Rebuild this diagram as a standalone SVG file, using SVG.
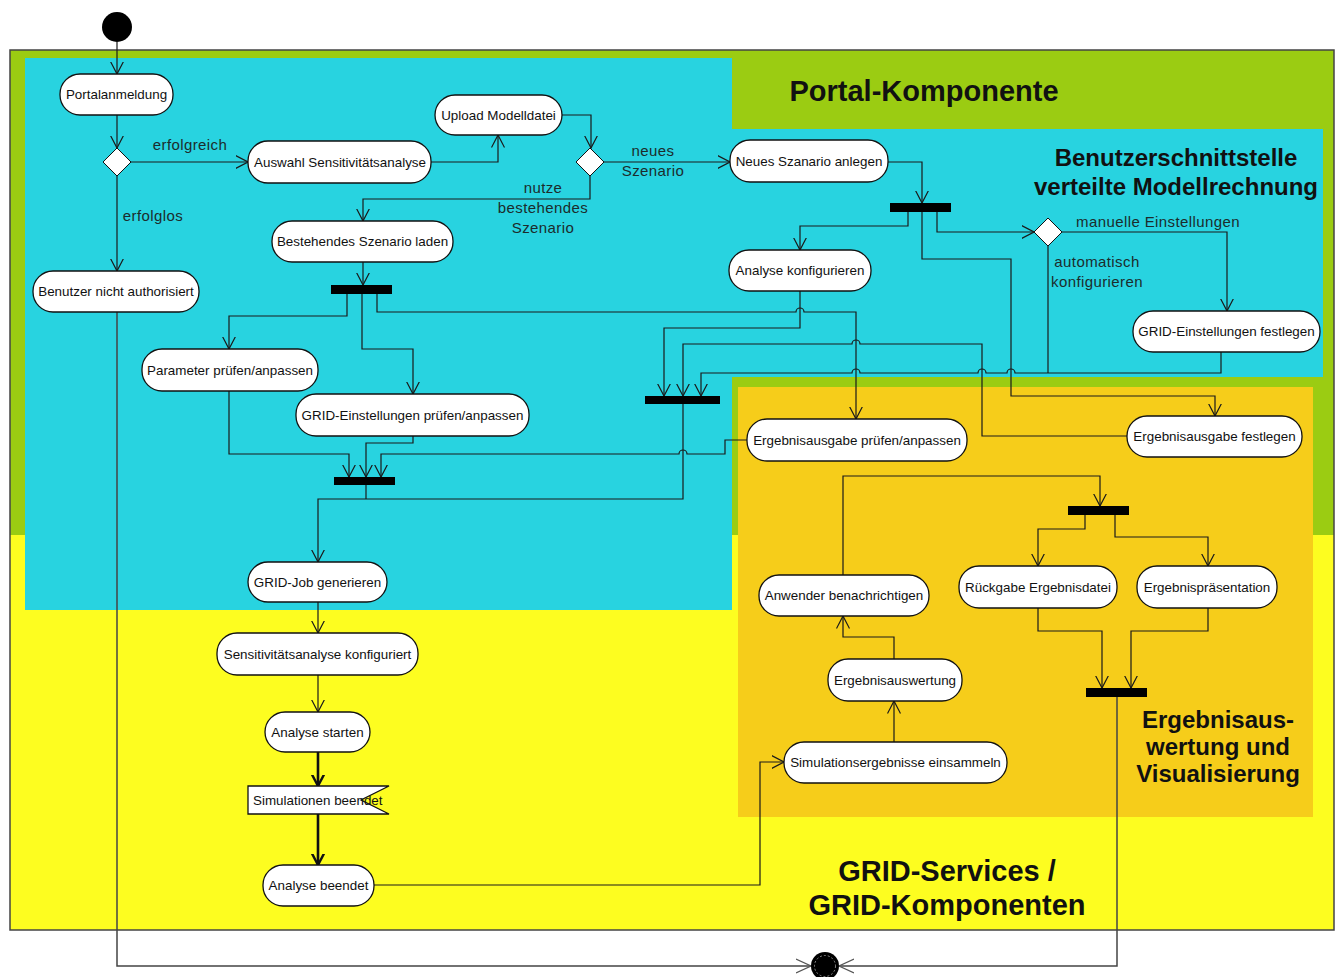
<svg xmlns="http://www.w3.org/2000/svg" width="1341" height="977" viewBox="0 0 1341 977">
<style>
.bg{stroke:none}
.nd{fill:#fff;stroke:#111;stroke-width:1.3}
.nt{font-family:"Liberation Sans",Arial,sans-serif;font-size:13.4px;text-anchor:middle;fill:#111}
.lbl{font-family:"Liberation Sans",Arial,sans-serif;font-size:15px;fill:#1c2c2c;letter-spacing:0.4px;text-anchor:middle}
.ttl{font-family:"Liberation Sans",Arial,sans-serif;font-weight:bold;text-anchor:middle;fill:#111}
.c{fill:none;stroke:#1a1a1a;stroke-width:1.2;marker-end:url(#arr)}
.cn{fill:none;stroke:#1a1a1a;stroke-width:1.2}
.ct{fill:none;stroke:#111;stroke-width:2.6;marker-end:url(#arrT)}
.cf{fill:none;stroke:#444;stroke-width:1.5;marker-end:url(#arrF)}
.bar{fill:#000}
.dia{fill:#fff;stroke:#111;stroke-width:1}
</style>
<defs>
<marker id="arr" viewBox="0 0 13 14" refX="12.5" refY="7" markerWidth="13" markerHeight="14" markerUnits="userSpaceOnUse" orient="auto">
<path d="M0,0.5 L12.5,7 L0,13.5" fill="none" stroke="#1a1a1a" stroke-width="1.2"/>
</marker>
<marker id="arrT" viewBox="0 0 12 14" refX="11.5" refY="7" markerWidth="12" markerHeight="14" markerUnits="userSpaceOnUse" orient="auto">
<path d="M0,1 L11.5,7 L0,13" fill="none" stroke="#111" stroke-width="2.4"/>
</marker>
<marker id="arrF" viewBox="0 0 16 16" refX="15" refY="8" markerWidth="16" markerHeight="16" markerUnits="userSpaceOnUse" orient="auto">
<path d="M0,1 L15,8 L0,15" fill="none" stroke="#555" stroke-width="1.2"/>
</marker>
</defs>

<g id="regions">
<rect class="bg" x="10" y="50" width="1324" height="485" fill="#9bcc12"/>
<rect class="bg" x="10" y="535" width="1324" height="395" fill="#fdfd20"/>
<polygon class="bg" points="25,58 732,58 732,129 1323,129 1323,377 732,377 732,610 25,610" fill="#28d3e0"/>
<rect class="bg" x="738" y="387" width="575" height="430" fill="#f6cd1a"/>
<rect x="10" y="50" width="1324" height="880" fill="none" stroke="#444" stroke-width="1.5"/>
<text class="ttl" x="924" y="101" font-size="29">Portal-Komponente</text>
<text class="ttl" x="1176" y="166" font-size="24">Benutzerschnittstelle</text>
<text class="ttl" x="1176" y="195" font-size="24">verteilte Modellrechnung</text>
<text class="ttl" x="1218" y="728" font-size="24">Ergebnisaus-</text>
<text class="ttl" x="1218" y="755" font-size="24">wertung und</text>
<text class="ttl" x="1218" y="782" font-size="24">Visualisierung</text>
<text class="ttl" x="947" y="881" font-size="29">GRID-Services /</text>
<text class="ttl" x="947" y="915" font-size="29">GRID-Komponenten</text>
</g>

<g id="connectors">
<path class="c" d="M117,42 V74"/>
<path class="c" d="M117,115 V148"/>
<path class="c" d="M131,162 H248"/>
<path class="c" d="M117,176 V271"/>
<path class="c" d="M431,162 H498 V135"/>
<path class="c" d="M562,115 H591 V148"/>
<path class="c" d="M604,162 H730"/>
<path class="c" d="M590,176 V199 H363 V221"/>
<path class="c" d="M888,162 H922 V203"/>
<path class="c" d="M908,212 V226 H800 V250"/>
<path class="c" d="M937,212 V232 H1034"/>
<path class="c" d="M922,212 V259 H1011 V396 H1215 V416"/>
<path class="c" d="M1062,232 H1227 V311"/>
<path class="cn" d="M1048,246 V373"/>
<path class="c" d="M1221,352 V373 H1015 a4,4 0 0 0 -8,0 H986 a4,4 0 0 0 -8,0 H860 a4,4 0 0 0 -8,0 H701 V396"/>
<path class="c" d="M800,291 V328 H664 V396"/>
<path class="c" d="M377,294 V312 H796 a4,4 0 0 1 8,0 H856 V419"/>
<path class="c" d="M1127,436 H982 V344 H860 a4,4 0 0 0 -8,0 H683 V396"/>
<path class="c" d="M363,262 V285"/>
<path class="c" d="M347,294 V316 H229 V349"/>
<path class="c" d="M362,294 V349 H413 V394"/>
<path class="c" d="M229,391 V454 H349 V477"/>
<path class="c" d="M413,436 V443 H366 V477"/>
<path class="c" d="M747,440 H725 V454 H687 a4,4 0 0 0 -8,0 H381 V477"/>
<path class="cn" d="M366,485 V499"/>
<path class="c" d="M683,404 V499 H318 V562"/>
<path class="c" d="M318,602 V633"/>
<path class="c" d="M318,675 V712"/>
<path class="ct" d="M318,752 V786"/>
<path class="ct" d="M318,814 V865"/>
<path class="c" d="M374,885 H760 V762 H784"/>
<path class="c" d="M894,742 V701"/>
<path class="c" d="M894,659 V637 H843 V616"/>
<path class="c" d="M843,575 V476 H1100 V506"/>
<path class="c" d="M1085,515 V529 H1038 V566"/>
<path class="c" d="M1115,515 V537 H1208 V566"/>
<path class="c" d="M1038,608 V631 H1102 V688"/>
<path class="c" d="M1208,608 V631 H1131 V688"/>
<path class="cf" d="M117,312 V966 H811"/>
<path class="cf" d="M1117,697 V966 H839"/>
<text class="lbl" x="190" y="150">erfolgreich</text>
<text class="lbl" x="153" y="221">erfolglos</text>
<text class="lbl" x="653" y="156">neues</text>
<text class="lbl" x="653" y="176">Szenario</text>
<text class="lbl" x="543" y="193">nutze</text>
<text class="lbl" x="543" y="213">bestehendes</text>
<text class="lbl" x="543" y="233">Szenario</text>
<text class="lbl" x="1158" y="227">manuelle Einstellungen</text>
<text class="lbl" x="1097" y="267">automatisch</text>
<text class="lbl" x="1097" y="287">konfigurieren</text>
</g>

<g id="start"><circle cx="117" cy="27" r="15" fill="#000"/></g>
<g id="end"><circle cx="825" cy="966" r="14" fill="#000"/><circle cx="825" cy="966" r="10.5" fill="none" stroke="#aaa" stroke-width="0.8" stroke-dasharray="2 2"/></g>

<g id="portalanmeldung"><rect class="nd" x="60" y="74" width="113" height="41" rx="20"/><text class="nt" x="116.5" y="99">Portalanmeldung</text></g>
<g id="dec1"><polygon class="dia" points="117,148 131,162 117,176 103,162"/></g>
<g id="auswahl"><rect class="nd" x="248" y="141" width="183" height="42" rx="20"/><text class="nt" x="340" y="166.5">Auswahl Sensitivitätsanalyse</text></g>
<g id="nichtauth"><rect class="nd" x="33" y="271" width="166" height="41" rx="20"/><text class="nt" x="116" y="296">Benutzer nicht authorisiert</text></g>
<g id="upload"><rect class="nd" x="435" y="95" width="127" height="40" rx="20"/><text class="nt" x="498.5" y="119.5">Upload Modelldatei</text></g>
<g id="dec2"><polygon class="dia" points="590,148 604,162 590,176 576,162"/></g>
<g id="bestehendes"><rect class="nd" x="272" y="221" width="181" height="41" rx="20"/><text class="nt" x="362.5" y="246">Bestehendes Szenario laden</text></g>
<g id="neues"><rect class="nd" x="730" y="140" width="158" height="42" rx="20"/><text class="nt" x="809" y="165.5">Neues Szanario anlegen</text></g>
<g id="fork1"><rect class="bar" x="890" y="203" width="61" height="9"/></g>
<g id="analysekonf"><rect class="nd" x="729" y="250" width="142" height="41" rx="20"/><text class="nt" x="800" y="275">Analyse konfigurieren</text></g>
<g id="dec3"><polygon class="dia" points="1048,218 1062,232 1048,246 1034,232"/></g>
<g id="gridfest"><rect class="nd" x="1133" y="311" width="187" height="41" rx="20"/><text class="nt" x="1226.5" y="336">GRID-Einstellungen festlegen</text></g>
<g id="fork2"><rect class="bar" x="331" y="285" width="61" height="9"/></g>
<g id="parameter"><rect class="nd" x="142" y="349" width="176" height="42" rx="20"/><text class="nt" x="230" y="374.5">Parameter prüfen/anpassen</text></g>
<g id="gridpruef"><rect class="nd" x="296" y="394" width="233" height="42" rx="20"/><text class="nt" x="412.5" y="419.5">GRID-Einstellungen prüfen/anpassen</text></g>
<g id="join3"><rect class="bar" x="334" y="477" width="61" height="8"/></g>
<g id="join4"><rect class="bar" x="645" y="396" width="75" height="8"/></g>
<g id="ergpruef"><rect class="nd" x="747" y="419" width="220" height="42" rx="20"/><text class="nt" x="857" y="444.5">Ergebnisausgabe prüfen/anpassen</text></g>
<g id="ergfest"><rect class="nd" x="1127" y="416" width="175" height="41" rx="20"/><text class="nt" x="1214.5" y="441">Ergebnisausgabe festlegen</text></g>
<g id="fork5"><rect class="bar" x="1068" y="506" width="61" height="9"/></g>
<g id="rueckgabe"><rect class="nd" x="959" y="566" width="158" height="42" rx="20"/><text class="nt" x="1038" y="591.5">Rückgabe Ergebnisdatei</text></g>
<g id="praesentation"><rect class="nd" x="1137" y="566" width="140" height="42" rx="20"/><text class="nt" x="1207" y="591.5">Ergebnispräsentation</text></g>
<g id="anwender"><rect class="nd" x="759" y="575" width="170" height="41" rx="20"/><text class="nt" x="844" y="600">Anwender benachrichtigen</text></g>
<g id="auswertung"><rect class="nd" x="828" y="659" width="134" height="42" rx="20"/><text class="nt" x="895" y="684.5">Ergebnisauswertung</text></g>
<g id="einsammeln"><rect class="nd" x="784" y="742" width="223" height="41" rx="20"/><text class="nt" x="895.5" y="767">Simulationsergebnisse einsammeln</text></g>
<g id="join6"><rect class="bar" x="1086" y="688" width="61" height="9"/></g>
<g id="gridjob"><rect class="nd" x="248" y="562" width="139" height="40" rx="20"/><text class="nt" x="317.5" y="586.5">GRID-Job generieren</text></g>
<g id="sensikonf"><rect class="nd" x="217" y="633" width="201" height="42" rx="20"/><text class="nt" x="317.5" y="658.5">Sensitivitätsanalyse konfiguriert</text></g>
<g id="starten"><rect class="nd" x="265" y="712" width="105" height="40" rx="20"/><text class="nt" x="317.5" y="736.5">Analyse starten</text></g>
<g id="simbeendet"><polygon class="nd" points="248,786 389,786 361,800 389,814 248,814"/><text class="nt" x="253" y="804.5" style="text-anchor:start">Simulationen beendet</text></g>
<g id="beendet"><rect class="nd" x="263" y="865" width="111" height="41" rx="20"/><text class="nt" x="318.5" y="890">Analyse beendet</text></g>
</svg>
